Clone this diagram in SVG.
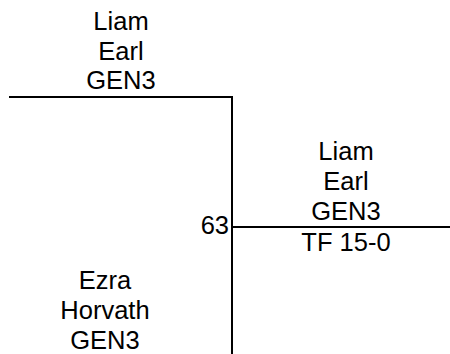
<svg xmlns="http://www.w3.org/2000/svg" width="450" height="354" viewBox="0 0 450 354">
<style>
text{font-family:"Liberation Sans",Arial,sans-serif;font-size:25.5px;fill:#000}
.c{text-anchor:middle}
.e{text-anchor:end}
line{stroke:#000;stroke-width:2}
</style>
<rect width="450" height="354" fill="#fff"/>
<g id="connectors">
<line x1="9" y1="97" x2="233" y2="97"/>
<line x1="232" y1="96" x2="232" y2="354"/>
<line x1="231" y1="227" x2="450" y2="227"/>
</g>
<g id="node-top">
<text class="c" x="121" y="30">Liam</text>
<text class="c" x="121" y="60">Earl</text>
<text class="c" x="121" y="89">GEN3</text>
</g>
<g id="node-winner">
<text class="c" x="346" y="160">Liam</text>
<text class="c" x="346" y="190">Earl</text>
<text class="c" x="346" y="220">GEN3</text>
<text class="c" x="346" y="251">TF 15-0</text>
<text class="e" x="229" y="234">63</text>
</g>
<g id="node-bottom">
<text class="c" x="105" y="289">Ezra</text>
<text class="c" x="105" y="319">Horvath</text>
<text class="c" x="105" y="349">GEN3</text>
</g>
</svg>
